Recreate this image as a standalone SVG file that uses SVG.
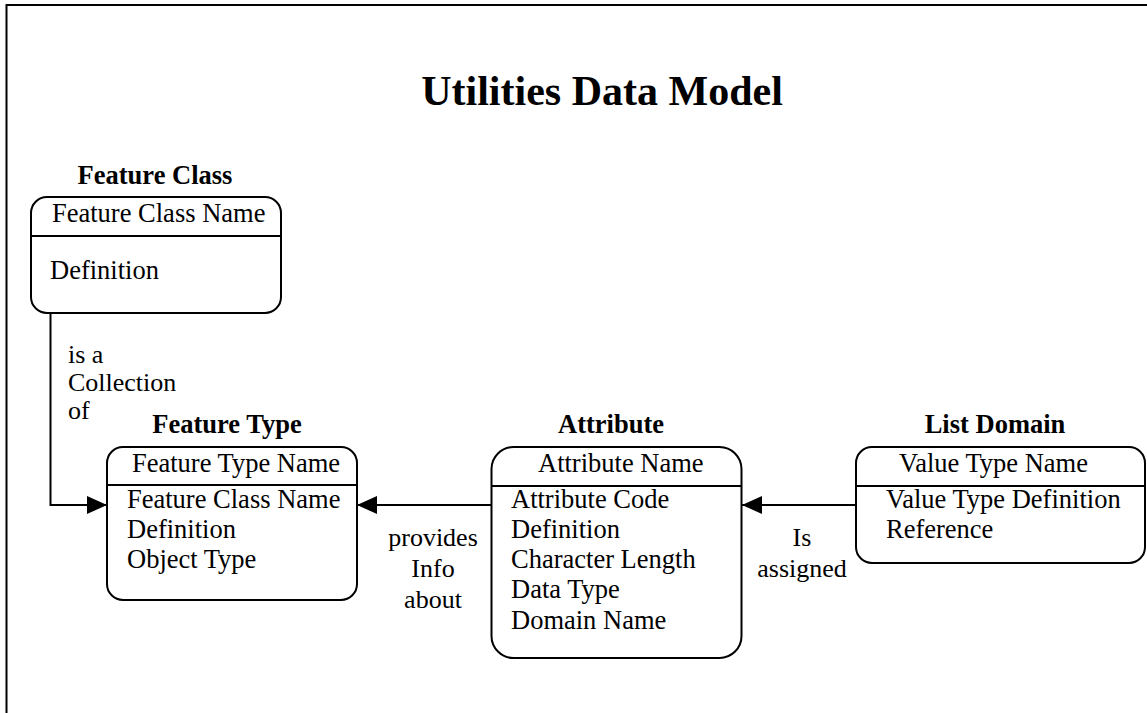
<svg xmlns="http://www.w3.org/2000/svg" width="1147" height="713" viewBox="0 0 1147 713">
  <style>
    text { font-family: "Liberation Serif", "Times New Roman", serif; fill: #000; }
    .title { font-size: 42px; font-weight: bold; }
    .head { font-size: 26.5px; font-weight: bold; }
    .item { font-size: 26.5px; }
    .lbl { font-size: 26px; }
    .box { fill: #fff; stroke: #000; stroke-width: 2; }
    .rule { stroke: #000; stroke-width: 2; }
    .wire { fill: none; stroke: #000; stroke-width: 2; }
  </style>
  <defs>
    <marker id="arrow" markerUnits="userSpaceOnUse" viewBox="0 0 20 18" refX="20" refY="9" markerWidth="20" markerHeight="18" orient="auto">
      <path d="M0,0 L20,9 L0,18 Z" fill="#000"/>
    </marker>
  </defs>

  <rect width="1147" height="713" fill="#fff"/>

  <!-- page frame -->
  <path d="M6.5,713 V5 H1147" fill="none" stroke="#000" stroke-width="2"/>

  <text class="title" x="602" y="105" text-anchor="middle">Utilities Data Model</text>

  <!-- connectors -->
  <g id="connectors">
    <path class="wire" d="M50.5,313 V505 H107" marker-end="url(#arrow)"/>
    <path class="wire" d="M491.5,505 H357" marker-end="url(#arrow)"/>
    <path class="wire" d="M856,505 H742" marker-end="url(#arrow)"/>
    <text class="lbl" x="68" y="363">is a</text>
    <text class="lbl" x="68" y="391">Collection</text>
    <text class="lbl" x="68" y="419">of</text>
    <text class="lbl" x="433" y="546" text-anchor="middle">provides</text>
    <text class="lbl" x="433" y="577" text-anchor="middle">Info</text>
    <text class="lbl" x="433" y="608" text-anchor="middle">about</text>
    <text class="lbl" x="802" y="546" text-anchor="middle">Is</text>
    <text class="lbl" x="802" y="577" text-anchor="middle">assigned</text>
  </g>

  <!-- Feature Class -->
  <g id="feature-class">
    <text class="head" x="155" y="184" text-anchor="middle">Feature Class</text>
    <rect class="box" x="31" y="197" width="250" height="116" rx="16"/>
    <line class="rule" x1="31" y1="236" x2="281" y2="236"/>
    <text class="item" x="52" y="222">Feature Class Name</text>
    <text class="item" x="50" y="279">Definition</text>
  </g>

  <!-- Feature Type -->
  <g id="feature-type">
    <text class="head" x="227" y="433" text-anchor="middle">Feature Type</text>
    <rect class="box" x="107" y="447" width="250" height="153" rx="16"/>
    <line class="rule" x1="107" y1="485" x2="357" y2="485"/>
    <text class="item" x="132" y="472">Feature Type Name</text>
    <text class="item" x="127" y="508">Feature Class Name</text>
    <text class="item" x="127" y="538">Definition</text>
    <text class="item" x="127" y="568">Object Type</text>
  </g>

  <!-- Attribute -->
  <g id="attribute">
    <text class="head" x="611" y="433" text-anchor="middle">Attribute</text>
    <rect class="box" x="491.5" y="447" width="250" height="211" rx="22"/>
    <line class="rule" x1="491.5" y1="486" x2="741.5" y2="486"/>
    <text class="item" x="538" y="472">Attribute Name</text>
    <text class="item" x="511" y="508">Attribute Code</text>
    <text class="item" x="511" y="538">Definition</text>
    <text class="item" x="511" y="568">Character Length</text>
    <text class="item" x="511" y="598">Data Type</text>
    <text class="item" x="511" y="629">Domain Name</text>
  </g>

  <!-- List Domain -->
  <g id="list-domain">
    <text class="head" x="995" y="433" text-anchor="middle">List Domain</text>
    <rect class="box" x="856" y="447" width="289" height="116" rx="16"/>
    <line class="rule" x1="856" y1="486" x2="1145" y2="486"/>
    <text class="item" x="899" y="472">Value Type Name</text>
    <text class="item" x="886" y="508">Value Type Definition</text>
    <text class="item" x="886" y="538">Reference</text>
  </g>
</svg>
